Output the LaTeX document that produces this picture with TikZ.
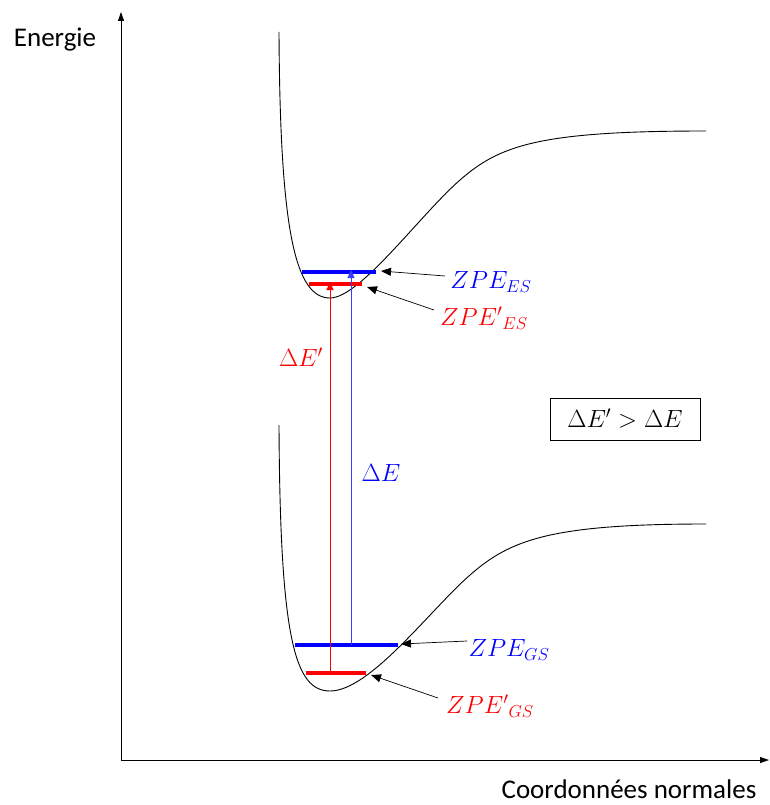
\documentclass[tikz,border=0pt]{standalone}
\usepackage{fontspec}
\setmainfont{Carlito}
\usetikzlibrary{arrows.meta}
\definecolor{zblue}{RGB}{0,0,255}
\definecolor{zlblue}{RGB}{60,60,255}
\definecolor{zred}{RGB}{255,0,0}
\begin{document}
\begin{tikzpicture}[x=1pt,y=-1pt,
  curve/.style={black,line width=0.9pt},
  level/.style={line width=3.8pt},
  trans/.style={line width=1pt,-{Triangle[length=8pt,width=7pt]}},
  pointer/.style={black,line width=0.7pt,-{Triangle[length=10pt,width=8pt]}},
  axis/.style={black,line width=0.9pt,-{Triangle[length=9pt,width=6pt]}},
  mlabel/.style={font=\fontsize{26}{30}\selectfont,inner sep=0pt},
  zlabel/.style={font=\fontsize{24}{28}\selectfont,inner sep=0pt},
  tlabel/.style={font=\fontsize{27}{31}\selectfont,inner sep=0pt}]
\useasboundingbox (0,0) rectangle (769,805);
% axes
\coordinate (O) at (121,760);
\coordinate (Ytop) at (121,12);
\coordinate (Xend) at (769,760);
\draw[axis] (O) -- (Ytop);
\draw[axis] (O) -- (Xend);
\node[tlabel] (energie) at (55,40) {Energie};
\node[tlabel] (coord) at (629,789) {Coordonnées normales};
% upper potential
\draw[curve] (279,32) .. controls (280,230) and (295,298) .. (330,298)
  .. controls (360,298) and (420,215) .. (460,180)
  .. controls (500,145) and (540,131) .. (706,131);
% lower potential
\draw[curve] (279,425) .. controls (280,640) and (295,691) .. (330,691)
  .. controls (370,691) and (430,610) .. (470,575)
  .. controls (510,540) and (550,524) .. (706,524);
% levels
\coordinate (bESl) at (302,272); \coordinate (bESr) at (376,272);
\coordinate (rESl) at (309,284); \coordinate (rESr) at (362,284);
\coordinate (bGSl) at (295,645); \coordinate (bGSr) at (398,645);
\coordinate (rGSl) at (306,673); \coordinate (rGSr) at (366,673);
\draw[level,draw=zblue] (bESl) -- (bESr);
\draw[level,draw=zred] (rESl) -- (rESr);
\draw[level,draw=zblue] (bGSl) -- (bGSr);
\draw[level,draw=zred] (rGSl) -- (rGSr);
% transitions
\coordinate (rb) at (330,673); \coordinate (rt) at (330,282);
\coordinate (bb) at (351,645); \coordinate (bt) at (351,270);
\draw[trans,draw=zred,fill=zred] (rb) -- (rt);
\draw[trans,draw=zlblue,fill=zblue] (bb) -- (bt);
\node[mlabel,text=zred] (dEp) at (301,357) {$\Delta E'$};
\node[mlabel,text=zblue] (dE) at (381,473) {$\Delta E$};
% labels
\node[zlabel,text=zblue] (zes) at (491,282) {$ZPE_{ES}$};
\node[zlabel,text=zred] (zpes) at (484,318) {$ZPE{'}_{ES}$};
\node[zlabel,text=zblue] (zgs) at (509,650) {$ZPE_{GS}$};
\node[zlabel,text=zred] (zpgs) at (490,706) {$ZPE{'}_{GS}$};
\coordinate (a1) at (445,276); \coordinate (a1t) at (381,271);
\coordinate (a2) at (434,310); \coordinate (a2t) at (367,287);
\coordinate (a3) at (467,641); \coordinate (a3t) at (401,644);
\coordinate (a4) at (438,698); \coordinate (a4t) at (371,675);
\draw[pointer] (a1) -- (a1t);
\draw[pointer] (a2) -- (a2t);
\draw[pointer] (a3) -- (a3t);
\draw[pointer] (a4) -- (a4t);
% box
\node[draw=black,line width=0.9pt,minimum width=150pt,minimum height=42pt,inner sep=0pt,font=\fontsize{27}{30}\selectfont] (box) at (625,419) {$\Delta E' > \Delta E$};
\end{tikzpicture}
\end{document}
